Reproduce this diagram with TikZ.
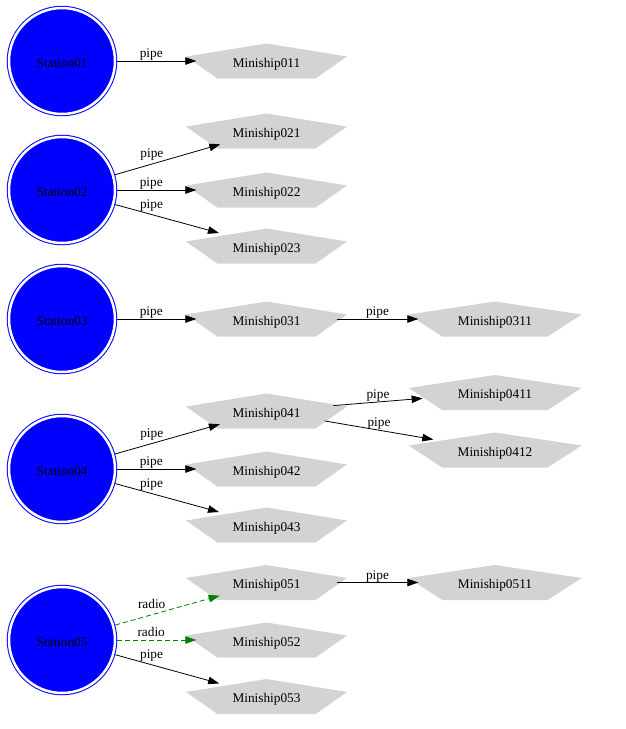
\documentclass[tikz,border=0pt]{standalone}
\usepackage{fontspec}
\setmainfont{Liberation Serif}
\usetikzlibrary{shapes,arrows.meta,positioning,backgrounds,calc}
\definecolor{shipgray}{RGB}{211,211,211}
\definecolor{radiogreen}{RGB}{0,128,0}
\tikzstyle{station} = [circle, draw=blue, line width=1pt, double=white,
    double distance=2.5pt, fill=blue, minimum size=106pt, inner sep=0pt, outer sep=2.2pt,
    text height=12.5pt, text depth=0pt]
\tikzstyle{ship} = [ellipse, minimum width=140pt, minimum height=35pt, inner sep=0pt,
    text height=12.5pt, text depth=0pt]
\tikzstyle{bigship} = [ship, minimum width=153pt]
\tikzstyle{line} = [draw, line width=0.8pt, -{Triangle[length=11pt,width=7.5pt]}]
\tikzstyle{radio} = [line, draw=radiogreen, dash pattern=on 5pt off 3pt]
\tikzstyle{lbl} = [text=black, inner sep=1pt, text depth=3pt, above=-1pt]

\begin{document}
\begin{tikzpicture}[x=1pt, y=-1pt, node distance=204.5pt, auto,
    font=\fontsize{13.3}{16}\selectfont]
   \useasboundingbox (0,0) rectangle (626,729);
   % Place nodes
    \node [station] (st01) at (62,61) {Station01};
    \node [ship, right of=st01] (m011) {Miniship011};
    \node [station] (st02) at (62,190) {Station02};
    \node [ship, right of=st02, yshift=59pt] (m021) {Miniship021};
    \node [ship, right of=st02] (m022) {Miniship022};
    \node [ship, right of=st02, yshift=-56pt] (m023) {Miniship023};
    \node [station] (st03) at (62,319) {Station03};
    \node [ship, right of=st03] (m031) {Miniship031};
    \node [bigship, right of=m031, node distance=228.5pt] (m0311) {Miniship0311};
    \node [station] (st04) at (62,469) {Station04};
    \node [ship, right of=st04, yshift=58pt] (m041) {Miniship041};
    \node [ship, right of=st04] (m042) {Miniship042};
    \node [ship, right of=st04, yshift=-56pt] (m043) {Miniship043};
    \node [bigship, right of=m041, node distance=228.5pt, yshift=18.5pt] (m0411) {Miniship0411};
    \node [bigship, right of=m041, node distance=228.5pt, yshift=-39pt] (m0412) {Miniship0412};
    \node [station] (st05) at (62,640) {Station05};
    \node [ship, right of=st05, yshift=57.5pt] (m051) {Miniship051};
    \node [ship, right of=st05] (m052) {Miniship052};
    \node [ship, right of=st05, yshift=-56.5pt] (m053) {Miniship053};
    \node [bigship, right of=m051, node distance=228.5pt] (m0511) {Miniship0511};
   % Pentagons behind the miniships
    \begin{scope}[on background layer]
    \foreach \n/\w in {m011/80.5, m021/80.5, m022/80.5, m023/80.5, m031/80.5,
        m041/80.5, m042/80.5, m043/80.5, m051/80.5, m052/80.5, m053/80.5,
        m0311/86.5, m0411/86.5, m0412/86.5, m0511/86.5}
      \fill [shipgray] ($(\n)+(0pt,17.5pt)$) -- ($(\n)+(-\w pt,4.5pt)$)
        -- ($(\n)+(-0.61*\w pt,-17.5pt)$) -- ($(\n)+(0.61*\w pt,-17.5pt)$)
        -- ($(\n)+(\w pt,4.5pt)$) -- cycle;
    \end{scope}
   % Draw edges
    \path [line] (st01) -- node [lbl, pos=.43] {pipe} (m011);
    \path [line] (st02) -- node [lbl, pos=.35, above=2pt] {pipe} (m021);
    \path [line] (st02) -- node [lbl, pos=.43] {pipe} (m022);
    \path [line] (st02) -- node [lbl, pos=.35, above=2pt] {pipe} (m023);
    \path [line] (st03) -- node [lbl, pos=.43] {pipe} (m031);
    \path [line] (m031) -- node [lbl] {pipe} (m0311);
    \path [line] (st04) -- node [lbl, pos=.35, above=2pt] {pipe} (m041);
    \path [line] (st04) -- node [lbl, pos=.43] {pipe} (m042);
    \path [line] (st04) -- node [lbl, pos=.35, above=2pt] {pipe} (m043);
    \path [line] (m041) -- node [lbl] {pipe} (m0411);
    \path [line] (m041) -- node [lbl] {pipe} (m0412);
    \path [radio] (st05) -- node [lbl, pos=.35, above=2pt] {radio} (m051);
    \path [radio] (st05) -- node [lbl, pos=.43] {radio} (m052);
    \path [line] (st05) -- node [lbl, pos=.35, above=2pt] {pipe} (m053);
    \path [line] (m051) -- node [lbl] {pipe} (m0511);
\end{tikzpicture}
\end{document}
